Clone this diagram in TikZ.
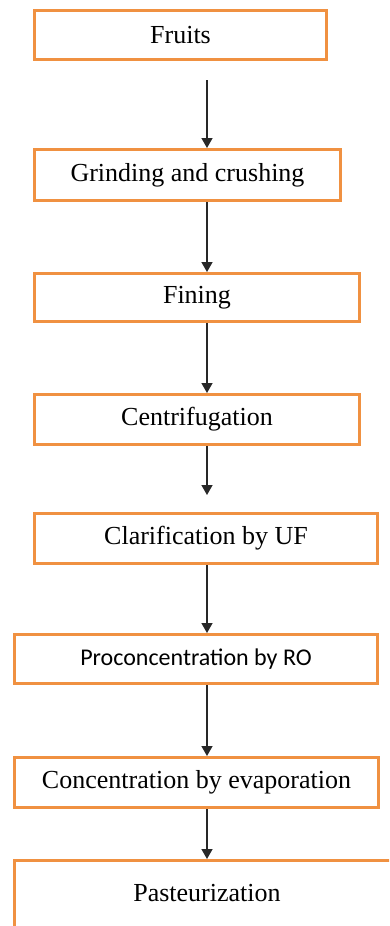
\documentclass[tikz,border=0pt]{standalone}
\usepackage{fontspec}
\setmainfont{Liberation Serif}
\newfontfamily\calib{Carlito}
\usetikzlibrary{arrows.meta}
\definecolor{boxorange}{RGB}{240,145,65}
\definecolor{arrowgray}{RGB}{40,40,40}
\tikzset{
  stepbox/.style={draw=boxorange, line width=3pt, fill=white, inner sep=0pt, align=center,
    font=\fontsize{26}{30}\selectfont},
  flowarrow/.style={draw=arrowgray, line width=1.4pt, -{Triangle[width=11pt,length=10pt]}},
}
\begin{document}
\begin{tikzpicture}[x=1pt,y=-1pt]
\useasboundingbox (0,0) rectangle (389,926);
\clip (0,0) rectangle (389,926);
\fill[white] (0,0) rectangle (389,926);
\coordinate (axis) at (207,0);
\node[stepbox, minimum width=292pt, minimum height=49pt] (n1) at (180.5,35) {Fruits};
\node[stepbox, minimum width=306pt, minimum height=51pt] (n2) at (187.5,175) {Grinding and crushing};
\node[stepbox, minimum width=325pt, minimum height=48pt] (n3) at (197,297.5) {Fining};
\node[stepbox, minimum width=325pt, minimum height=50pt] (n4) at (197,419.5) {Centrifugation};
\node[stepbox, minimum width=343pt, minimum height=50pt] (n5) at (206,538.5) {Clarification by UF};
\node[stepbox, minimum width=363pt, minimum height=49pt, font=\calib\fontsize{24}{28}\selectfont] (n6) at (196,659) {Proconcentration by RO};
\node[stepbox, minimum width=364pt, minimum height=50pt] (n7) at (196.5,782.5) {Concentration by evaporation};
\node[stepbox, minimum width=386pt, minimum height=100pt] (n8) at (207.5,910.5) {};
\node[font=\fontsize{26}{30}\selectfont, inner sep=0pt] (t8) at (207,893) {Pasteurization};
\coordinate (c1) at (207,80);
\coordinate (c4) at (207,495);
\draw[flowarrow] (c1) -- (n2.north -| axis);
\draw[flowarrow] (n2.south -| axis) -- (n3.north -| axis);
\draw[flowarrow] (n3.south -| axis) -- (n4.north -| axis);
\draw[flowarrow] (n4.south -| axis) -- (c4);
\draw[flowarrow] (n5.south -| axis) -- (n6.north -| axis);
\draw[flowarrow] (n6.south -| axis) -- (n7.north -| axis);
\draw[flowarrow] (n7.south -| axis) -- (n8.north -| axis);
\end{tikzpicture}
\end{document}
